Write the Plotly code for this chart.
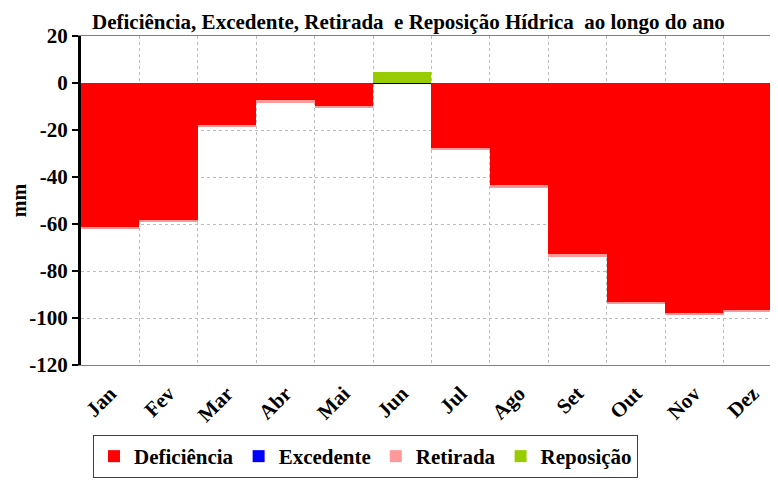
import plotly.graph_objects as go

meses = ["Jan", "Fev", "Mar", "Abr", "Mai", "Jun", "Jul", "Ago", "Set", "Out", "Nov", "Dez"]
deficiencia = [-61.5, -58.3, -18.0, -7.5, -10.0, 0, -27.5, -43.3, -72.7, -93.0, -97.7, -96.5]
excedente = [0, 0, 0, 0, 0, 0, 0, 0, 0, 0, 0, 0]
retirada = [-0.8, -0.8, -0.8, -0.8, -0.8, 0, -1.0, -1.5, -1.2, -1.0, -1.0, -1.0]
reposicao = [0, 0, 0, 0, 0, 4.5, 0, 0, 0, 0, 0, 0]
yticks = [20, 0, -20, -40, -60, -80, -100, -120]
yticklabels = ["20", "0", "-20", "-40", "-60", "-80", "-100", "-120"]

FONT = "Liberation Serif"
W, H = 770, 472  # page body has an 8px margin

fig = go.Figure()
fig.add_bar(x=meses, y=deficiencia, name="Deficiência", marker=dict(color="#FF0000", line=dict(width=0)))
fig.add_bar(x=meses, y=excedente, name="Excedente", marker=dict(color="#0000FF", line=dict(width=0)))
fig.add_bar(x=meses, y=retirada, name="Retirada", marker=dict(color="#FF9999", line=dict(width=0)))
fig.add_bar(x=meses, y=reposicao, name="Reposição", marker=dict(color="#99CC00", line=dict(width=0)))

fig.update_layout(
    width=W, height=H,
    margin=dict(l=73, r=0, t=28, b=115),
    paper_bgcolor="white", plot_bgcolor="white",
    barmode="relative", bargap=0,
    font=dict(family=FONT, color="black", weight="bold"),
    title=dict(text="Deficiência, Excedente, Retirada  e Reposição Hídrica  ao longo do ano",
               x=84 / W, xanchor="left", xref="container",
               y=1 - 14 / H, yanchor="middle", yref="container",
               font=dict(family=FONT, size=21, color="black", weight="bold")),
    legend=dict(orientation="h", xref="container", yref="container",
                x=85 / W, xanchor="left", y=2 / H, yanchor="bottom",
                bordercolor="#404040", borderwidth=1, bgcolor="white",
                font=dict(family=FONT, size=21, color="black", weight="bold"),
                traceorder="normal"),
)

fig.update_xaxes(
    type="category", range=[-0.5, 11.435], automargin=False,
    tickson="boundaries", ticks="", tickangle=-45,
    tickfont=dict(family=FONT, size=21, color="black", weight="bold"),
    showgrid=True, gridcolor="#BBBBBB", griddash="dot", gridwidth=1,
    showline=True, linecolor="#808080", linewidth=1, mirror=True,
    ticklabelstandoff=7,
)

fig.update_yaxes(
    range=[-120, 20], tickvals=yticks, ticktext=yticklabels, automargin=False,
    tickfont=dict(family=FONT, size=21, color="black", weight="bold"),
    ticks="outside", ticklen=6, tickwidth=2, tickcolor="black",
    showgrid=True, gridcolor="#BBBBBB", griddash="dot", gridwidth=1,
    showline=True, linecolor="black", linewidth=3,
    zeroline=True, zerolinecolor="black", zerolinewidth=1,
    title=dict(text="mm", font=dict(family=FONT, size=20, color="black", weight="bold"), standoff=8),
)

fig.write_html("out.html")
